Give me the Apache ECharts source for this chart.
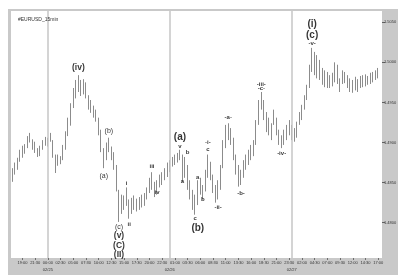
<!DOCTYPE html>
<html><head><meta charset="utf-8">
<script src="https://cdn.jsdelivr.net/npm/echarts@6/dist/echarts.min.js"></script>
<style>html,body{margin:0;padding:0;background:#fff}#c{width:402px;height:277px}</style>
</head><body><div id="c"></div>
<script>
// ---- data ----
const chartTitle = '#EURUSD_15min';
const startUTC = Date.UTC(2008, 1, 24, 17, 0);
const barMinutes = 30;
const categoryCount = 146;

const opens = [1.4853,1.4863,1.4872,1.4878,1.4888,1.4891,1.4896,1.4906,1.4902,1.4895,
1.4891,1.4887,1.4893,1.4901,1.4903,1.4902,1.4901,1.4885,1.4871,1.4878,
1.4881,1.4893,1.4912,1.4928,1.4946,1.4963,1.4972,1.4968,1.4974,1.4965,
1.4958,1.4946,1.4941,1.4934,1.4928,1.4913,1.4891,1.4878,1.4896,1.4893,
1.4882,1.4868,1.4841,1.4816,1.4829,1.4822,1.4829,1.4816,1.4825,1.4822,
1.4826,1.4822,1.4829,1.4835,1.4841,1.4853,1.4847,1.4837,1.4850,1.4856,
1.4860,1.4866,1.4872,1.4876,1.4878,1.4881,1.4885,1.4881,1.4860,1.4872,
1.4847,1.4835,1.4822,1.4831,1.4850,1.4839,1.4844,1.4863,1.4876,1.4860,
1.4841,1.4835,1.4847,1.4868,1.4897,1.4918,1.4909,1.4903,1.4881,1.4863,
1.4853,1.4863,1.4875,1.4881,1.4887,1.4893,1.4900,1.4924,1.4949,1.4947,
1.4934,1.4918,1.4922,1.4923,1.4931,1.4916,1.4901,1.4906,1.4912,1.4918,
1.4916,1.4909,1.4916,1.4923,1.4934,1.4943,1.4955,1.4968,1.4990,1.5003,
1.4990,1.5000,1.4984,1.4978,1.4984,1.4973,1.4978,1.4983,1.4990,1.4978,
1.4973,1.4985,1.4978,1.4972,1.4968,1.4973,1.4970,1.4975,1.4978,1.4973,
1.4980,1.4975,1.4983,1.4980,1.4987];
const closes = [1.4863,1.4872,1.4878,1.4888,1.4891,1.4896,1.4906,1.4902,1.4895,1.4891,
1.4887,1.4893,1.4901,1.4903,1.4898,1.4908,1.4885,1.4868,1.4878,1.4881,
1.4893,1.4912,1.4928,1.4946,1.4963,1.4972,1.4968,1.4974,1.4965,1.4958,
1.4946,1.4941,1.4934,1.4928,1.4913,1.4891,1.4878,1.4896,1.4893,1.4882,
1.4868,1.4841,1.4816,1.4829,1.4822,1.4829,1.4816,1.4825,1.4822,1.4826,
1.4822,1.4829,1.4835,1.4841,1.4853,1.4847,1.4837,1.4850,1.4856,1.4860,
1.4866,1.4872,1.4876,1.4878,1.4881,1.4885,1.4881,1.4860,1.4876,1.4847,
1.4835,1.4822,1.4831,1.4850,1.4839,1.4844,1.4863,1.4878,1.4860,1.4841,
1.4835,1.4847,1.4868,1.4897,1.4918,1.4909,1.4903,1.4881,1.4863,1.4853,
1.4863,1.4875,1.4881,1.4887,1.4893,1.4900,1.4924,1.4949,1.4947,1.4934,
1.4918,1.4922,1.4909,1.4937,1.4916,1.4901,1.4906,1.4912,1.4918,1.4916,
1.4909,1.4916,1.4923,1.4934,1.4943,1.4955,1.4968,1.4990,1.5003,1.4990,
1.5000,1.4984,1.4978,1.4984,1.4973,1.4978,1.4983,1.4990,1.4978,1.4968,
1.4985,1.4978,1.4972,1.4968,1.4973,1.4970,1.4975,1.4978,1.4973,1.4980,
1.4975,1.4983,1.4980,1.4987,1.4990];
const lows = [1.4851,1.4860,1.4866,1.4876,1.4881,1.4886,1.4893,1.4900,1.4891,1.4887,
1.4882,1.4883,1.4891,1.4896,1.4895,1.4901,1.4881,1.4862,1.4871,1.4873,
1.4878,1.4891,1.4908,1.4921,1.4943,1.4955,1.4963,1.4958,1.4960,1.4955,
1.4941,1.4937,1.4931,1.4926,1.4909,1.4888,1.4868,1.4878,1.4888,1.4878,
1.4866,1.4839,1.4801,1.4811,1.4816,1.4821,1.4805,1.4811,1.4816,1.4814,
1.4816,1.4819,1.4821,1.4829,1.4837,1.4841,1.4832,1.4835,1.4844,1.4847,
1.4853,1.4857,1.4863,1.4870,1.4872,1.4875,1.4878,1.4851,1.4856,1.4841,
1.4829,1.4816,1.4810,1.4822,1.4835,1.4829,1.4839,1.4856,1.4853,1.4837,
1.4825,1.4829,1.4841,1.4868,1.4893,1.4903,1.4897,1.4878,1.4860,1.4845,
1.4847,1.4856,1.4866,1.4872,1.4878,1.4883,1.4897,1.4922,1.4941,1.4928,
1.4913,1.4909,1.4903,1.4922,1.4909,1.4897,1.4893,1.4897,1.4903,1.4909,
1.4903,1.4901,1.4906,1.4922,1.4928,1.4941,1.4953,1.4968,1.4988,1.4984,
1.4980,1.4978,1.4972,1.4969,1.4968,1.4968,1.4970,1.4975,1.4973,1.4963,
1.4973,1.4974,1.4968,1.4963,1.4962,1.4965,1.4963,1.4968,1.4969,1.4970,
1.4972,1.4973,1.4975,1.4978,1.4980];
const highs = [1.4868,1.4875,1.4881,1.4891,1.4896,1.4898,1.4908,1.4912,1.4904,1.4901,
1.4893,1.4896,1.4903,1.4907,1.4906,1.4912,1.4903,1.4885,1.4885,1.4883,
1.4897,1.4914,1.4931,1.4949,1.4968,1.4978,1.4984,1.4978,1.4979,1.4975,
1.4959,1.4953,1.4946,1.4941,1.4931,1.4916,1.4893,1.4900,1.4906,1.4895,
1.4888,1.4872,1.4841,1.4835,1.4834,1.4844,1.4829,1.4831,1.4834,1.4830,
1.4832,1.4835,1.4837,1.4844,1.4856,1.4863,1.4851,1.4853,1.4860,1.4863,
1.4868,1.4875,1.4878,1.4882,1.4885,1.4887,1.4891,1.4885,1.4882,1.4872,
1.4853,1.4841,1.4835,1.4853,1.4856,1.4847,1.4866,1.4885,1.4876,1.4860,
1.4847,1.4853,1.4872,1.4903,1.4922,1.4924,1.4918,1.4906,1.4885,1.4872,
1.4866,1.4878,1.4885,1.4891,1.4897,1.4903,1.4928,1.4953,1.4963,1.4953,
1.4938,1.4931,1.4924,1.4941,1.4931,1.4916,1.4909,1.4916,1.4922,1.4928,
1.4922,1.4918,1.4926,1.4938,1.4947,1.4959,1.4972,1.4997,1.5018,1.5013,
1.5009,1.5003,1.4993,1.4990,1.4988,1.4984,1.4987,1.5000,1.4997,1.4980,
1.4990,1.4988,1.4984,1.4980,1.4978,1.4982,1.4979,1.4983,1.4984,1.4985,
1.4983,1.4987,1.4988,1.4990,1.4993];

const yTickValues = [1.4800, 1.4850, 1.4900, 1.4950, 1.5000, 1.5050];
const dayStarts = ['02/25 00:00', '02/26 00:00', '02/27 00:00'];

const annoTimes = ['02/25 06:00','02/25 12:00','02/25 11:00','02/25 14:00','02/25 14:00','02/25 14:00','02/25 14:00',
'02/25 15:30','02/25 16:00','02/25 20:30','02/25 21:30',
'02/26 02:00','02/26 02:00','02/26 03:30','02/26 02:30','02/26 05:00','02/26 05:30','02/26 05:30','02/26 06:30',
'02/26 07:30','02/26 07:30','02/26 09:30','02/26 11:30','02/26 14:00','02/26 18:00','02/26 18:00','02/26 22:00',
'02/27 04:00','02/27 04:00','02/27 04:00'];
const annoPrices = [1.4993,1.4914,1.4858,1.4795,1.4784,1.4772,1.4760,
1.4849,1.4798,1.4870,1.4838,
1.4907,1.4895,1.4888,1.4852,1.4806,1.4793,1.4857,1.4829,
1.4900,1.4891,1.4819,1.4931,1.4837,1.4973,1.4967,1.4886,
1.5048,1.5034,1.5024];
const annoTexts = ['(iv)','(b)','(a)','(c)','(v)','(C)','(II)',
'i','ii','iii','iv',
'(a)','v','b','a','c','(b)','a','b',
'-i-','c','-ii-','-a-','-b-','-iii-','-c-','-iv-',
'(i)','(c)','-v-'];
const annoDegree = ['mid','small','small','small','mid','mid','mid',
'tiny','tiny','tiny','tiny',
'big','tiny','tiny','tiny','tiny','big','tiny','tiny',
'tiny','tiny','tiny','tiny','tiny','tiny','tiny','tiny',
'big','big','tiny'];

// ---- build ----
const pad = n => (n < 10 ? '0' : '') + n;
const categories = [];
for (let i = 0; i < categoryCount; i++) {
  const d = new Date(startUTC + i * barMinutes * 60000);
  categories.push(pad(d.getUTCMonth() + 1) + '/' + pad(d.getUTCDate()) + ' ' + pad(d.getUTCHours()) + ':' + pad(d.getUTCMinutes()));
}
const ohlc = opens.map((o, i) => [o, closes[i], lows[i], highs[i]]);

const degreeStyle = {
  big:   { fontSize: 10, fontWeight: 'bold' },
  mid:   { fontSize: 8.5, fontWeight: 'bold' },
  small: { fontSize: 7, fontWeight: 'normal' },
  tiny:  { fontSize: 6, fontWeight: 'bold' }
};
const annoData = annoTexts.map((t, i) => ({
  name: t,
  value: [annoTimes[i], annoPrices[i]],
  label: degreeStyle[annoDegree[i]]
}));

const FONT = 'Liberation Sans, Arial, sans-serif';
const GRAY = '#c9c9c9';
const barColor = '#8c8c8c';
const labelEvery = (i) => i % 5 === 4;

const chart = echarts.init(document.getElementById('c'), null, { renderer: 'canvas' });
chart.setOption({
  animation: false,
  backgroundColor: '#fff',
  textStyle: { fontFamily: FONT },
  title: {
    text: chartTitle, left: 13, top: 12,
    textStyle: { fontSize: 5, fontWeight: 'normal', color: '#333', fontFamily: FONT }
  },
  graphic: [
    { type: 'rect', z: -1, shape: { x: 8, y: 9, width: 3, height: 266 }, style: { fill: GRAY } },
    { type: 'rect', z: -1, shape: { x: 8, y: 9, width: 390, height: 2 }, style: { fill: GRAY } },
    { type: 'rect', z: -1, shape: { x: 382, y: 9, width: 16, height: 266 }, style: { fill: GRAY } },
    { type: 'rect', z: -1, shape: { x: 8, y: 258, width: 390, height: 17 }, style: { fill: GRAY } }
  ],
  grid: { left: 11, right: 20, top: 11, bottom: 19, show: true, backgroundColor: '#fff', borderWidth: 0 },
  xAxis: [
    {
      type: 'category', data: categories, boundaryGap: true, z: 10,
      axisLine: { show: false },
      axisTick: { show: true, alignWithLabel: true, interval: labelEvery, length: 2, lineStyle: { color: '#555', width: 0.8 } },
      axisLabel: { interval: labelEvery, formatter: v => v.slice(6), fontSize: 4, color: '#333', margin: 3 },
      splitLine: { show: false }
    },
    {
      type: 'category', data: categories, boundaryGap: true, position: 'bottom', offset: 7, z: 10,
      axisLine: { show: false }, axisTick: { show: false },
      axisLabel: { interval: (i, v) => v.slice(6) === '00:00', formatter: v => v.slice(0, 5), fontSize: 4, color: '#333', margin: 3 },
      splitLine: { show: false }
    }
  ],
  yAxis: {
    type: 'value', position: 'right', min: 1.4756, max: 1.5064, scale: true, z: 10,
    axisLine: { show: false },
    splitLine: { show: false },
    axisTick: { show: true, length: 3, customValues: yTickValues, lineStyle: { color: '#444', width: 0.8 } },
    axisLabel: { customValues: yTickValues, formatter: v => v.toFixed(4), fontSize: 4, color: '#333', margin: 2 }
  },
  series: [
    {
      type: 'candlestick', data: ohlc, barWidth: 1.2,
      itemStyle: { color: barColor, color0: barColor, borderColor: barColor, borderColor0: barColor, borderWidth: 1 },
      markLine: {
        silent: true, symbol: 'none', label: { show: false },
        lineStyle: { color: '#c6c6c6', width: 1.5, type: 'solid' },
        data: dayStarts.map(d => ({ xAxis: d }))
      }
    },
    {
      type: 'scatter', data: annoData, symbolSize: 0, silent: true, z: 5,
      label: { show: true, position: 'inside', formatter: '{b}', color: '#000', fontFamily: FONT }
    }
  ]
});
</script>
</body></html>
